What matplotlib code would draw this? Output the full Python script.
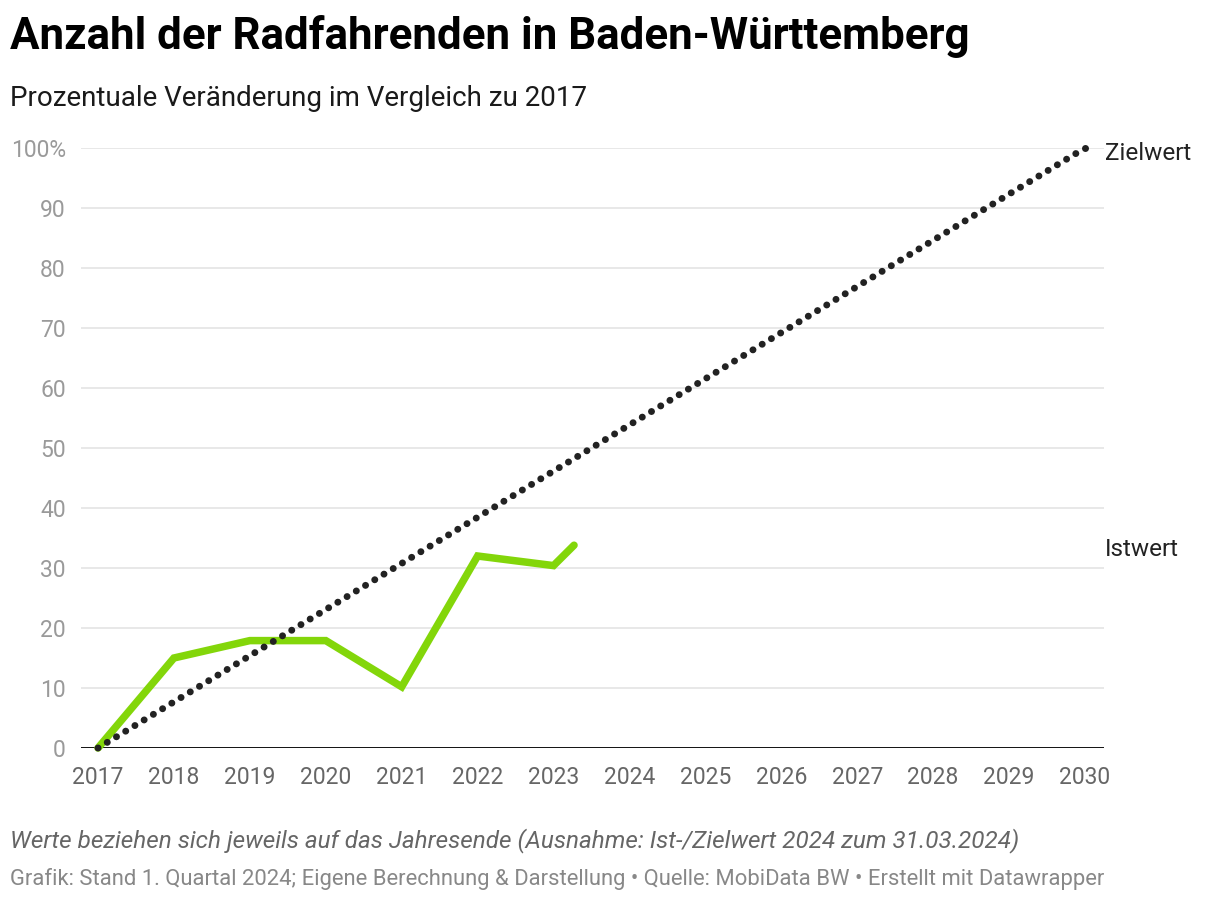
import matplotlib.pyplot as plt

plt.rcParams["font.family"] = ["Roboto", "DejaVu Sans"]

# Istwert (letzter Punkt = Stand 31.03.2024)
ist_jahre = [2017, 2018, 2019, 2020, 2021, 2022, 2023, 2023.27]
ist_werte = [0, 15, 17.9, 17.9, 10.2, 32, 30.4, 33.8]

# Zielwert
ziel_jahre = [2017, 2030]
ziel_werte = [0, 100]

x_ticks = list(range(2017, 2031))
y_ticks = [0, 10, 20, 30, 40, 50, 60, 70, 80, 90, 100]
y_labels = ["0", "10", "20", "30", "40", "50", "60", "70", "80", "90", "100%"]

W, H = 1220, 902
fig = plt.figure(figsize=(W / 100, H / 100), dpi=100)

# axes in pixel coordinates: left 81, right 1104, y=0 at 748, y=100 at 148
ax = fig.add_axes([81 / W, 1 - 748 / H, (1104 - 81) / W, 600 / H])
ax.set_xlim(2017 - 17 / 75.92, 2030 + 19 / 75.92)
ax.set_ylim(0, 100)

for v in y_ticks[1:]:
    ax.axhline(v, color="#e6e6e6", linewidth=1.3, zorder=0)
ax.axhline(0, color="#111111", linewidth=1.4, zorder=1)

ax.plot(ist_jahre, ist_werte, color="#83d60a", linewidth=5.4,
        solid_joinstyle="miter", solid_capstyle="round", zorder=2, clip_on=False)
ax.plot(ziel_jahre, ziel_werte, color="#222222", linewidth=5.0,
        linestyle=(0, (0.01, 1.5445)), dash_capstyle="round", zorder=3, clip_on=False)
# Endpunkt des Zielwerts
ax.plot(ziel_jahre[-1:], ziel_werte[-1:], "o", color="#222222", markersize=5.0,
        markeredgewidth=0, zorder=3, clip_on=False)

for s in ax.spines.values():
    s.set_visible(False)

ax.set_xticks(x_ticks)
ax.set_xticklabels([str(x) for x in x_ticks])
ax.set_yticks(y_ticks)
ax.set_yticklabels(y_labels)
ax.tick_params(axis="x", length=0, pad=13, labelsize=16.5, labelcolor="#666666")
ax.tick_params(axis="y", length=0, pad=11, labelsize=16.5, labelcolor="#9a9a9a")
for lbl in ax.get_yticklabels():
    lbl.set_horizontalalignment("right")

ax.text(1105 / W, 1 - 153 / H, "Zielwert", transform=fig.transFigure,
        fontsize=17.5, color="#222222", va="center", ha="left")
ax.text(1105 / W, 1 - 550 / H, "Istwert", transform=fig.transFigure,
        fontsize=17.5, color="#222222", va="center", ha="left")

fig.text(10 / W, 1 - 36 / H, "Anzahl der Radfahrenden in Baden-Württemberg",
         fontsize=31.6, fontweight="bold", color="#000000", va="center")
fig.text(10 / W, 1 - 98 / H, "Prozentuale Veränderung im Vergleich zu 2017",
         fontsize=20, color="#1a1a1a", va="center")
fig.text(10 / W, 1 - 841 / H,
         "Werte beziehen sich jeweils auf das Jahresende (Ausnahme: Ist-/Zielwert 2024 zum 31.03.2024)",
         fontsize=17.45, style="italic", color="#666666", va="center")
fig.text(10 / W, 1 - 879 / H,
         "Grafik: Stand 1. Quartal 2024; Eigene Berechnung & Darstellung • Quelle: MobiData BW • Erstellt mit Datawrapper",
         fontsize=15.8, color="#888888", va="center")

fig.savefig("out.png", dpi=100, facecolor="white")
